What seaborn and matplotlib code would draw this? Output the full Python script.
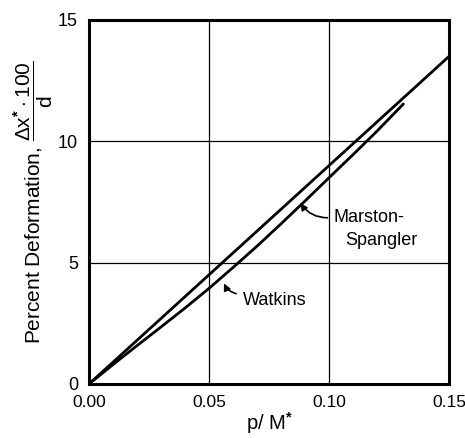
import matplotlib
matplotlib.use("Agg")
import matplotlib.pyplot as plt
import seaborn as sns
import pandas as pd

# Data
upper_x = [0.0, 0.15]
upper_y = [0.0, 13.5]          # Marston-Spangler
lower_x = [0.0, 0.01, 0.02, 0.03, 0.04, 0.05, 0.06, 0.07, 0.08, 0.09, 0.10, 0.11, 0.12, 0.131]
lower_y = [0.0, 0.8, 1.58, 2.35, 3.13, 3.94, 4.8, 5.68, 6.6, 7.54, 8.5, 9.45, 10.42, 11.54]   # Watkins
x_ticks = [0.00, 0.05, 0.10, 0.15]
x_tick_labels = ["0.00", "0.05", "0.10", "0.15"]
y_ticks = [0, 5, 10, 15]
y_tick_labels = ["0", "5", "10", "15"]

sns.set_theme(style="white")
plt.rcParams['font.family'] = ['Liberation Sans', 'DejaVu Sans']
plt.rcParams['mathtext.fontset'] = 'custom'
plt.rcParams['mathtext.rm'] = 'Liberation Sans'
plt.rcParams['mathtext.it'] = 'Liberation Sans'
plt.rcParams['mathtext.bf'] = 'Liberation Sans:bold'

fig = plt.figure(figsize=(4.65, 4.38), dpi=100)
ax = fig.add_axes([89/465, 1-384/438, (449-89)/465, (384-20)/438])

df_up = pd.DataFrame({"x": upper_x, "y": upper_y})
df_lo = pd.DataFrame({"x": lower_x, "y": lower_y})
sns.lineplot(data=df_up, x="x", y="y", ax=ax, color="black", lw=2.0)
sns.lineplot(data=df_lo, x="x", y="y", ax=ax, color="black", lw=2.0)

ax.set_xlim(0, 0.15)
ax.set_ylim(0, 15)
ax.set_xticks(x_ticks)
ax.set_xticklabels(x_tick_labels)
ax.set_yticks(y_ticks)
ax.set_yticklabels(y_tick_labels)
ax.tick_params(axis="x", length=0, labelsize=12.5, colors="black", pad=8)
ax.tick_params(axis="y", length=0, labelsize=13, colors="black", pad=8)
ax.grid(True, color="black", lw=0.9)
for s in ax.spines.values():
    s.set_color("black")
    s.set_linewidth(2.2)

ax.set_xlabel(r"p/ M$^{\mathbf{*}}$", fontsize=14.5, color="black", labelpad=0)
ax.set_ylabel(r"Percent Deformation, $\dfrac{\Delta \mathrm{x}^{\mathbf{*}}\cdot 100}{\mathrm{d}}$",
              fontsize=15, color="black", labelpad=2)

ax.text(0.064, 3.45, "Watkins", fontsize=13, ha="left", va="center", color="black")
ax.text(0.1017, 6.87, "Marston-", fontsize=13, ha="left", va="center", color="black")
ax.text(0.1067, 5.93, "Spangler", fontsize=13, ha="left", va="center", color="black")

ax.annotate("", xy=(0.0558, 4.25), xytext=(0.0625, 3.7),
            arrowprops=dict(arrowstyle="-|>", color="black", lw=1.2,
                            connectionstyle="arc3,rad=-0.3", mutation_scale=10))
ax.annotate("", xy=(0.0875, 7.55), xytext=(0.1005, 6.85),
            arrowprops=dict(arrowstyle="-|>", color="black", lw=1.2,
                            connectionstyle="arc3,rad=-0.3", mutation_scale=10))

fig.savefig("out.png", dpi=100)
